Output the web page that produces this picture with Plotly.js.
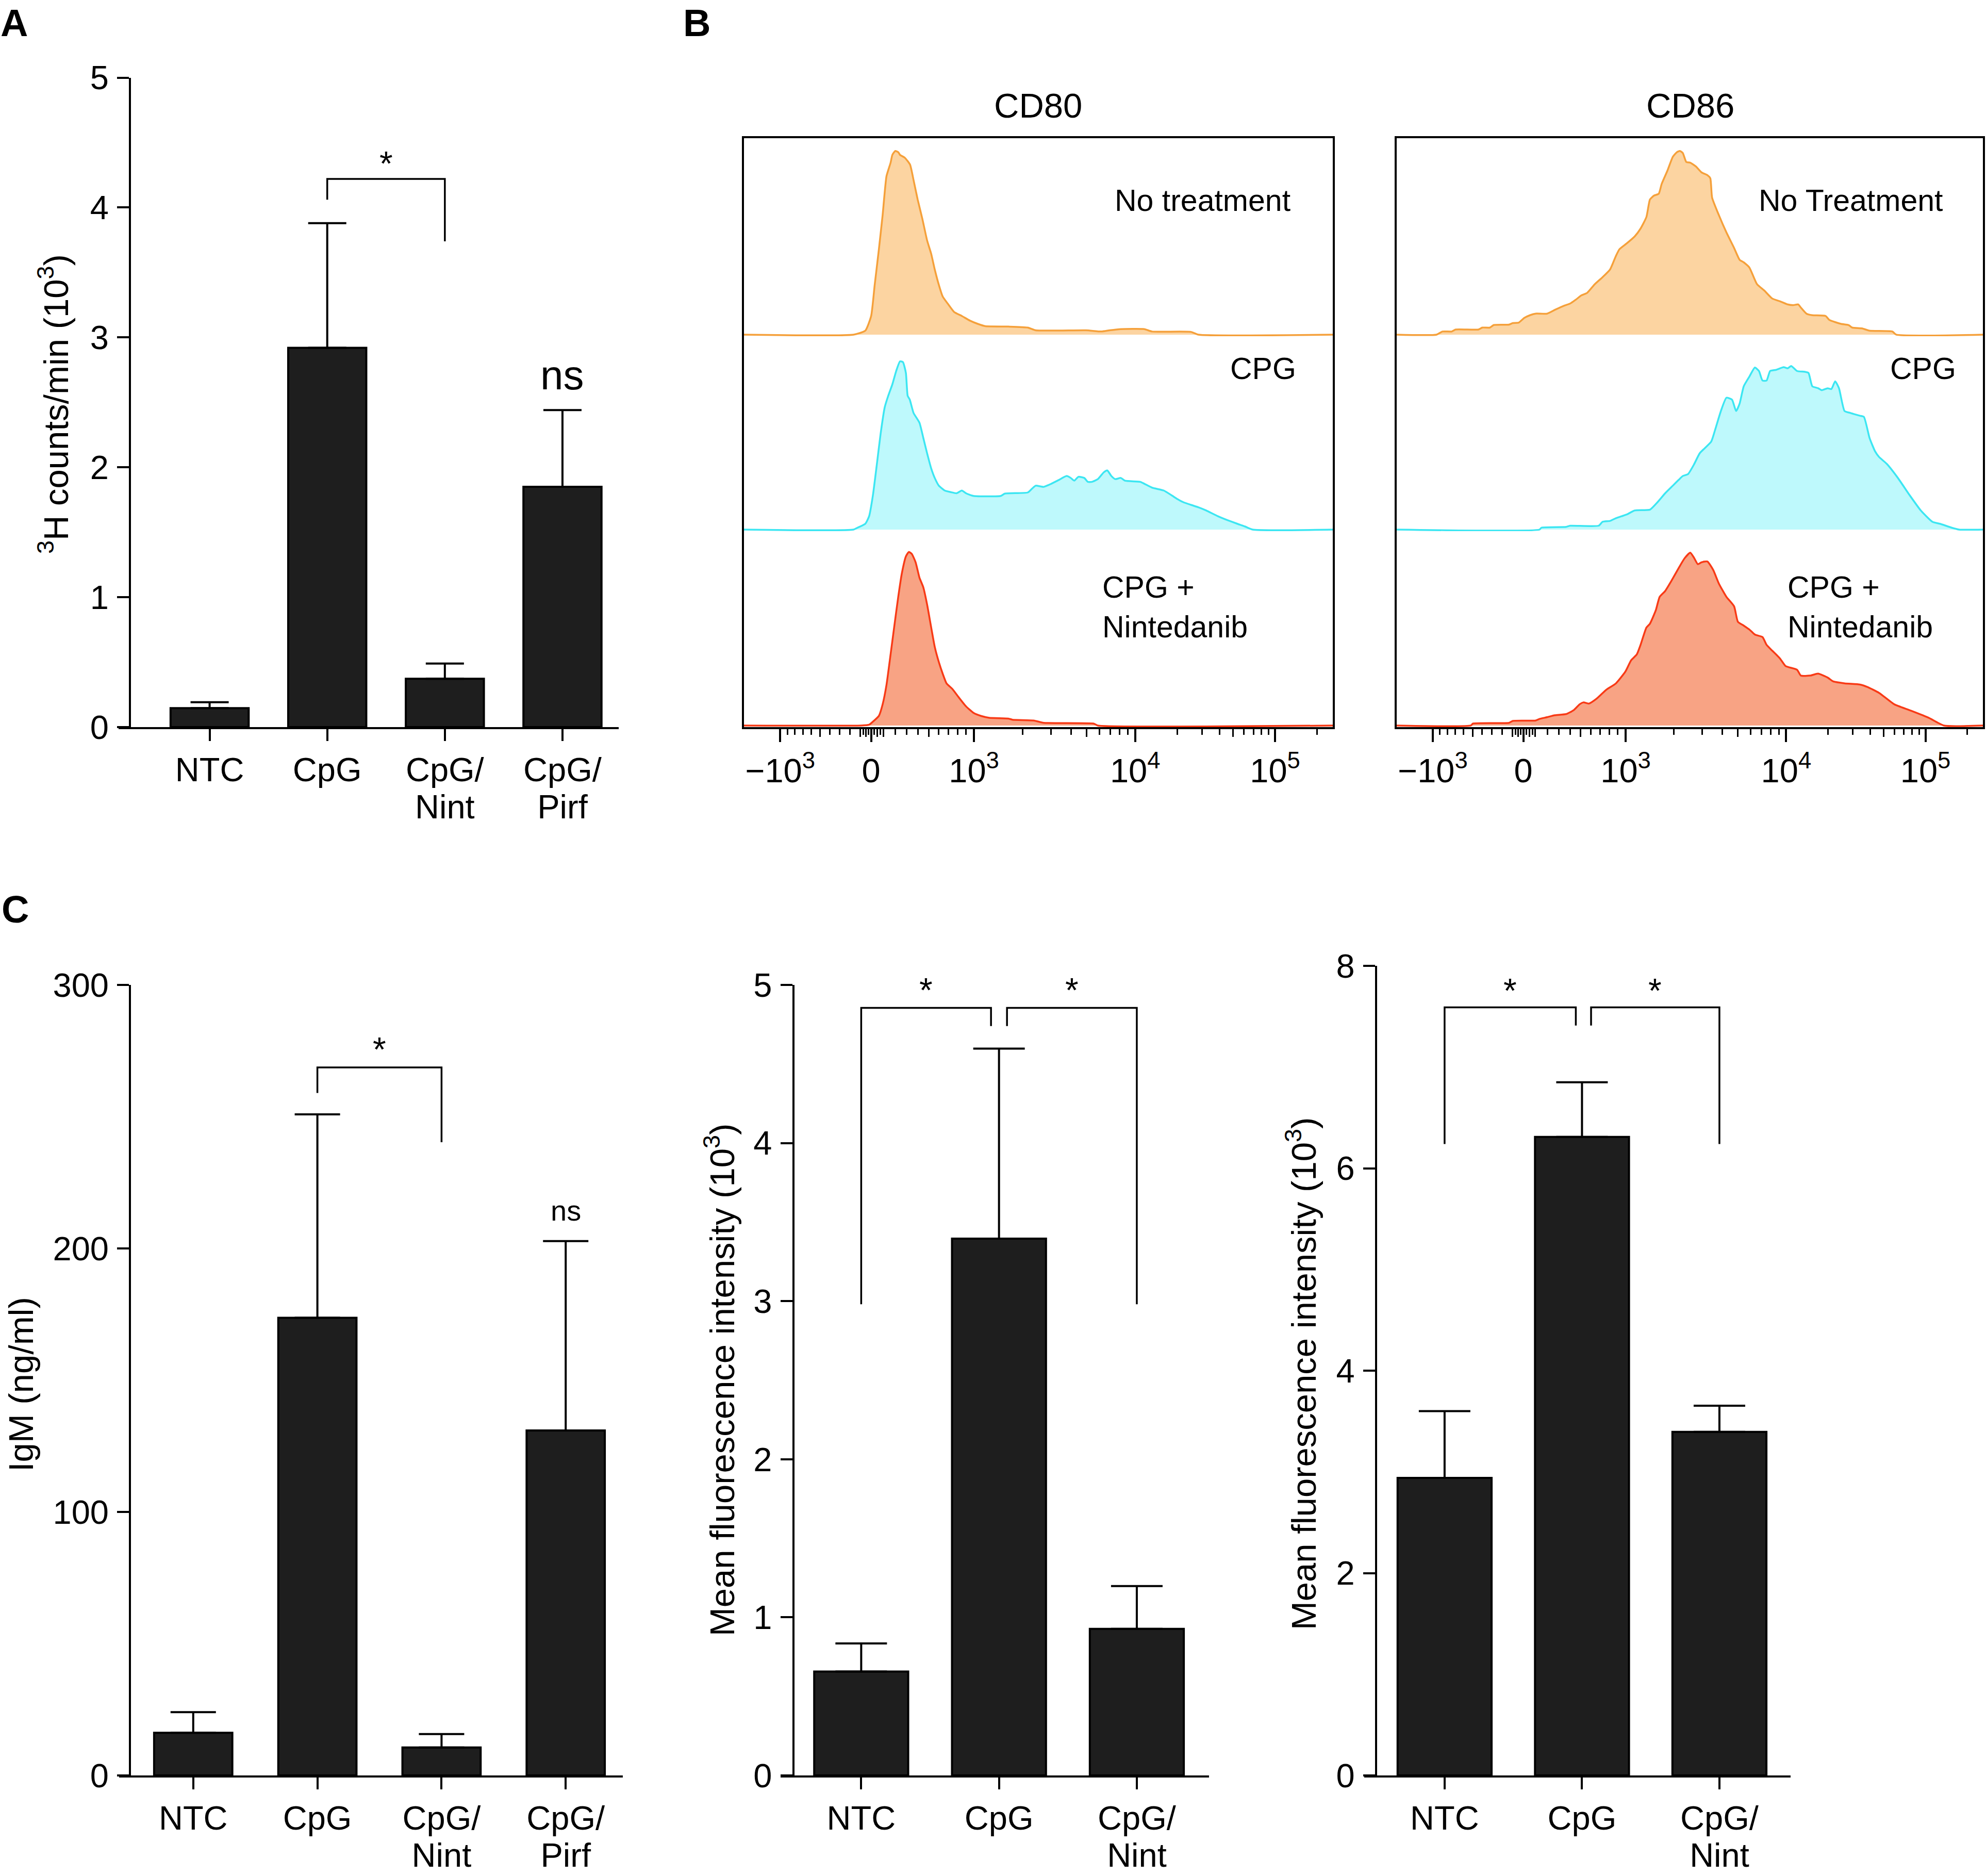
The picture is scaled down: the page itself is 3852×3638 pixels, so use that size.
<!DOCTYPE html>
<html><head><meta charset="utf-8">
<script src="https://cdn.plot.ly/plotly-3.0.1.min.js"></script>
<style>html,body{margin:0;padding:0;background:#fff}</style>
</head><body><div id="fig" style="width:3852px;height:3638px"></div>
<script>
// ===== Panel A: 3H-thymidine counts (x10^3 cpm) =====
const groupsA = ['NTC', 'CpG', 'CpG/<br>Nint', 'CpG/<br>Pirf'];
const meanA = [0.146, 2.92, 0.372, 1.85];
const semA  = [0.046, 0.96, 0.117, 0.59];

// ===== Panel C1: IgM (ng/ml) =====
const groupsC1 = ['NTC', 'CpG', 'CpG/<br>Nint', 'CpG/<br>Pirf'];
const meanC1 = [16.2, 173.7, 10.6, 130.9];
const semC1  = [7.8, 77.2, 5.1, 71.9];

// ===== Panel C2: CD80 MFI (x10^3) =====
const groupsC2 = ['NTC', 'CpG', 'CpG/<br>Nint'];
const meanC2 = [0.657, 3.395, 0.927];
const semC2  = [0.178, 1.202, 0.271];

// ===== Panel C3: CD86 MFI (x10^3) =====
const groupsC3 = ['NTC', 'CpG', 'CpG/<br>Nint'];
const meanC3 = [2.94, 6.31, 3.395];
const semC3  = [0.66, 0.54, 0.259];

// ===== Panel B: flow histograms (x = display channel 0-1000, y = normalized count) =====
const cd80_nt_x = [0,186,206,216,222,229,235.5,242,249,252,257,262,265,273,282,288,295,303,311,318,324,331,337.5,347,357,370,384,397,410,449,482,495.5,581,607,621,640,680,693,759,772,1000];
const cd80_nt_y = [0,0,0.020,0.095,0.253,0.431,0.609,0.806,0.875,0.915,0.935,0.929,0.915,0.901,0.866,0.787,0.688,0.589,0.480,0.411,0.332,0.253,0.194,0.154,0.115,0.095,0.071,0.055,0.043,0.041,0.036,0.022,0.022,0.016,0.022,0.028,0.028,0.016,0.014,0,0];

const cd80_cpg_x = [0,186,193,206,212.5,219,225.6,232,239,245,252,258.5,265,270,275,278,281.6,288,298,304.6,311,318,324,331,341,351,361,370,377,390,436,443,482,489,495.5,509,522,535,548,555,561,568,578,584,591,601,611,617,624,630.5,640,647,673,680,693,713,726,736,746,759,772,785,805,821,838,851,864,1000];
const cd80_cpg_y = [0,0,0.010,0.030,0.069,0.178,0.336,0.494,0.632,0.692,0.751,0.820,0.870,0.866,0.810,0.692,0.672,0.603,0.553,0.474,0.395,0.316,0.267,0.227,0.202,0.194,0.188,0.202,0.188,0.174,0.174,0.186,0.192,0.211,0.227,0.221,0.237,0.257,0.277,0.267,0.253,0.273,0.267,0.247,0.247,0.261,0.296,0.306,0.277,0.261,0.267,0.253,0.247,0.237,0.217,0.202,0.178,0.158,0.142,0.128,0.115,0.099,0.069,0.049,0.030,0.016,0,0];

const cd80_nin_x = [0,199,212.5,219,229,235.5,242,249,255,262,268,275,280,285,291.5,298,304.6,311,318,324,331,337.5,344,354,364,377,390,403,416.5,449,456,492,509,594,601,1000];
const cd80_nin_y = [0,0,0.004,0.020,0.049,0.109,0.208,0.366,0.504,0.662,0.781,0.870,0.893,0.883,0.840,0.761,0.711,0.623,0.504,0.405,0.326,0.267,0.217,0.188,0.148,0.099,0.065,0.049,0.040,0.036,0.030,0.026,0.014,0.010,0,0];

const cd86_nt_x = [0,68,78,94,100.5,139.5,146,159,165.5,191.6,198,208,217.6,227.4,237,256.6,269.7,286,295.7,305.5,315,325,338,351,364,374,380,393,406,416,426,432,439,447,452,462,471,478,483,488,494,501,510.5,520,530,535,538,549.5,562.5,575.6,585,592,601.6,614.6,627.6,640.6,653.6,666.7,676,685,689.4,699,709,731.7,738,757.8,770.8,777,793.6,806.6,845.6,852,1000];
const cd86_nt_y = [0,0,0.016,0.016,0.026,0.026,0.036,0.036,0.049,0.051,0.059,0.061,0.085,0.099,0.107,0.107,0.126,0.148,0.158,0.178,0.200,0.213,0.257,0.292,0.332,0.401,0.435,0.466,0.500,0.540,0.599,0.688,0.708,0.717,0.767,0.836,0.905,0.929,0.935,0.925,0.879,0.875,0.856,0.826,0.812,0.796,0.698,0.609,0.520,0.441,0.381,0.368,0.342,0.257,0.223,0.184,0.170,0.154,0.150,0.154,0.138,0.107,0.099,0.095,0.075,0.055,0.049,0.036,0.032,0.020,0.016,0,0];

const cd86_cpg_x = [0,243.6,247,289,295.7,344.5,351,364,374,383.6,393,406,432,445,458,471,481,488,497,507,517,536.5,543,553,562.5,572,579,585,592,601.6,611,618,624,631,637,647,660,667,673,683,696,702.5,709,719,725,735,741.5,748,754.5,764,774,780.5,790,797,806.6,816,823,836,855,875,894,914,927,946.5,959.5,1000];
const cd86_cpg_y = [0,0,0.010,0.014,0.020,0.020,0.040,0.045,0.059,0.069,0.079,0.099,0.103,0.142,0.188,0.227,0.257,0.277,0.287,0.336,0.395,0.455,0.514,0.613,0.682,0.672,0.613,0.652,0.741,0.791,0.838,0.820,0.771,0.771,0.820,0.826,0.840,0.834,0.846,0.820,0.816,0.810,0.741,0.731,0.721,0.731,0.727,0.767,0.731,0.613,0.603,0.597,0.589,0.583,0.474,0.405,0.375,0.340,0.267,0.178,0.099,0.040,0.030,0.010,0,0];

const cd86_nin_x = [0,126.5,130,191.6,198,237,243.6,256.6,269.7,289,302,312,318.5,328,341,357.5,374,390,400,409.6,416,426,432,442,448.6,458,468,481,491,500.7,507,513.7,520,530,540,549.5,562.5,575.6,582,592,601.6,611,624,631,640.6,653.6,663.4,683,689.4,705.7,718.7,735,744.8,764.3,790.3,803.3,822.9,848.9,874.9,907.4,933.5,1000];
const cd86_nin_y = [0,0,0.010,0.014,0.024,0.026,0.034,0.043,0.053,0.059,0.079,0.109,0.119,0.113,0.138,0.184,0.217,0.277,0.336,0.366,0.415,0.504,0.524,0.593,0.662,0.692,0.741,0.810,0.860,0.889,0.864,0.830,0.840,0.844,0.800,0.731,0.662,0.613,0.534,0.514,0.494,0.468,0.455,0.415,0.385,0.346,0.306,0.287,0.257,0.257,0.267,0.247,0.227,0.217,0.211,0.198,0.168,0.109,0.079,0.040,0,0];

// flow axis ticks (fluorescence intensity values)
const flowMajorVals = [-1000, 0, 1000, 10000, 100000];
const flowMajorText = ['\u221210<sup>3</sup>', '0', '10<sup>3</sup>', '10<sup>4</sup>', '10<sup>5</sup>'];

// significance brackets
const sigA  = [{x0:1, x1:2, top:4.22, y0:4.06, y1:3.74, label:'*', ly:4.34}];
const sigC1 = [{x0:1, x1:2, top:268.7, y0:259, y1:240.3, label:'*', ly:275.5}];
const sigC2 = [{x0:0, x1:0.942, top:4.855, y0:2.98, y1:4.74, label:'*', ly:4.968},
               {x0:1.058, x1:2, top:4.855, y0:4.74, y1:2.98, label:'*', ly:4.968}];
const sigC3 = [{x0:0, x1:0.955, top:7.59, y0:6.24, y1:7.41, label:'*', ly:7.756},
               {x0:1.066, x1:2, top:7.59, y0:7.41, y1:6.24, label:'*', ly:7.756}];

// ---------- helpers ----------
const W = 3852, H = 3638;
const FONT = '"Liberation Sans", Arial, Helvetica, sans-serif';
const NARROW = '"Liberation Sans Narrow", "Liberation Sans", Arial, sans-serif';
const px = v => v / W;
const py = v => 1 - v / H;

// biexponential-like display transform: intensity -> channel (0..1000)
const FLOW_ZERO = 216, K_POS = 171.8, K_NEG = 152, W_LIN = 833;
function toChannel(v) {
  if (Math.abs(v) <= 1000) return FLOW_ZERO + (v >= 0 ? K_POS : K_NEG) * Math.asinh(v / W_LIN);
  if (v > 0) {
    const lv = Math.log10(v);
    if (lv <= 4) return 390.6 + (lv - 3) * 273.8;
    return 664.4 + (lv - 4) * 237.6;
  }
  return 61.5 - (Math.log10(-v) - 3) * 273.8;
}
const minorVals = [-75, -25, 25, 75], mediumVals = [-100, -50, 50, 100];
for (let d = 2; d <= 9; d++) {
  const arr = d === 5 ? mediumVals : minorVals;
  arr.push(-d * 100, d * 100, d * 1000, d * 10000);
}
minorVals.push(200000);

const data = [];
const annotations = [];

function barPanel(xa, ya, means, sems, bw, capw, sig) {
  data.push({
    type: 'bar', x: means.map((_, i) => i), y: means, xaxis: xa, yaxis: ya, width: bw,
    marker: {color: '#1e1e1e', line: {color: '#000', width: 4}},
    error_y: {type: 'data', symmetric: false, array: sems, arrayminus: sems.map(() => 0),
              color: '#000', thickness: 4, width: capw},
    hoverinfo: 'skip'
  });
  sig.forEach(b => {
    data.push({type: 'scatter', mode: 'lines', x: [b.x0, b.x0, b.x1, b.x1], y: [b.y0, b.top, b.top, b.y1],
      xaxis: xa, yaxis: ya, line: {color: '#000', width: 3.5}, hoverinfo: 'skip', cliponaxis: false});
    annotations.push({xref: xa, yref: ya, x: (b.x0 + b.x1) / 2, y: b.ly, text: b.label, showarrow: false,
      font: {size: 66, family: FONT}, xanchor: 'center', yanchor: 'middle'});
  });
}

barPanel('x', 'y', meanA, semA, 0.664, 37, sigA);
barPanel('x6', 'y10', meanC1, semC1, 0.63, 44, sigC1);
barPanel('x7', 'y11', meanC2, semC2, 0.682, 50, sigC2);
barPanel('x8', 'y12', meanC3, semC3, 0.684, 50, sigC3);

// ns labels
annotations.push({xref: 'x', yref: 'y', x: 3, y: 2.71, text: 'ns', showarrow: false, font: {size: 80, family: FONT}});
annotations.push({xref: 'x6', yref: 'y10', x: 3, y: 214.3, text: 'ns', showarrow: false, font: {size: 56, family: FONT}});

// histograms
const ORANGE = {line: '#F5A03A', fill: '#FCD4A1'};
const CYAN = {line: '#3CE6F2', fill: '#BEF9FC'};
const RED = {line: '#F83A16', fill: '#F8A384'};
function hist(xs, ys, xa, ya, col) {
  data.push({type: 'scatter', mode: 'lines', x: xs, y: ys, xaxis: xa, yaxis: ya,
    line: {color: col.line, width: 3.5, shape: 'spline', smoothing: 0.5},
    fill: 'tozeroy', fillcolor: col.fill, hoverinfo: 'skip'});
}
hist(cd80_nt_x, cd80_nt_y, 'x2', 'y3', ORANGE);
hist(cd80_cpg_x, cd80_cpg_y, 'x2', 'y4', CYAN);
hist(cd80_nin_x, cd80_nin_y, 'x2', 'y5', RED);
hist(cd86_nt_x, cd86_nt_y, 'x4', 'y7', ORANGE);
hist(cd86_cpg_x, cd86_cpg_y, 'x4', 'y8', CYAN);
hist(cd86_nin_x, cd86_nin_y, 'x4', 'y9', RED);
// invisible points to register frame / overlay subplots
[['x2','y2'],['x3','y2'],['x4','y6'],['x5','y6'],['x9','y'],['x10','y10'],['x11','y11'],['x12','y12']]
  .forEach(([xa, ya]) => data.push({type: 'scatter', mode: 'markers', x: [0.5], y: [0.5], xaxis: xa, yaxis: ya,
    marker: {opacity: 0, size: 1}, hoverinfo: 'skip'}));

// panel B labels
const bLab = (xa, ya, x, y, text, xanchor) => annotations.push({xref: xa, yref: ya, x, y, text,
  showarrow: false, xanchor, yanchor: 'middle', align: 'left', font: {size: 59, family: NARROW}});
bLab('x2', 'y3', 930, 0.683, 'No treatment', 'right');
bLab('x2', 'y4', 940, 0.833, 'CPG', 'right');
bLab('x2', 'y5', 607, 0.608, 'CPG +<br>Nintedanib', 'left');
bLab('x4', 'y7', 933, 0.683, 'No Treatment', 'right');
bLab('x4', 'y8', 956, 0.833, 'CPG', 'right');
bLab('x4', 'y9', 665, 0.608, 'CPG +<br>Nintedanib', 'left');

// titles & axis titles
const pAnn = (x, y, text, size, extra) => annotations.push(Object.assign({xref: 'paper', yref: 'paper',
  x: px(x), y: py(y), text, showarrow: false, xanchor: 'center', yanchor: 'middle',
  font: {size, family: FONT}}, extra || {}));
pAnn(2014, 204, 'CD80', 67);
pAnn(3278, 204, 'CD86', 67);
pAnn(27, 44, '<b>A</b>', 74);
pAnn(1351, 44, '<b>B</b>', 74);
pAnn(29, 1764, '<b>C</b>', 74);
pAnn(104, 784, '<sup>3</sup>H counts/min (10<sup>3</sup>)', 67, {textangle: -90});
pAnn(40, 2685, 'IgM (ng/ml)', 67, {textangle: -90});
pAnn(1396, 2676, 'Mean fluorescence intensity (10<sup>3</sup>)', 67, {textangle: -90});
pAnn(2524, 2664, 'Mean fluorescence intensity (10<sup>3</sup>)', 67, {textangle: -90});

// ---------- axes ----------
const common = {showgrid: false, zeroline: false, fixedrange: true, color: '#000'};
const line1 = g => g.split('<br>')[0];
const line2 = g => g.split('<br>')[1] || '';
function barX(d0, d1, range, labels, anchor) {
  return Object.assign({}, common, {domain: [px(d0), px(d1)], range, anchor,
    tickmode: 'array', tickvals: labels.map((_, i) => i), ticktext: labels.map(line1),
    ticks: 'outside', ticklen: 23, tickwidth: 4, tickcolor: '#000',
    showline: true, linewidth: 4, linecolor: '#000',
    tickfont: {size: 65, family: FONT}, ticklabelstandoff: 0});
}
function barX2(over, range, labels, anchor) {
  const idx = labels.map((g, i) => i).filter(i => line2(labels[i]) !== '');
  return Object.assign({}, common, {overlaying: over, range, anchor,
    tickmode: 'array', tickvals: idx, ticktext: idx.map(i => line2(labels[i])),
    ticks: 'outside', ticklen: 23, tickwidth: 1, tickcolor: 'rgba(0,0,0,0)', showline: false,
    tickfont: {size: 65, family: FONT}, ticklabelstandoff: 75});
}
function barY(top, bottom, range, dtick, pos) {
  return Object.assign({}, common, {domain: [py(bottom), py(top)], range, anchor: 'free', position: px(pos),
    tickmode: 'linear', tick0: 0, dtick, ticks: 'outside', ticklen: 23, tickwidth: 4, tickcolor: '#000',
    showline: true, linewidth: 4, linecolor: '#000',
    tickfont: {size: 65, family: FONT}, ticklabelstandoff: 3});
}
function flowX(d0, d1, anchor) {
  return Object.assign({}, common, {domain: [px(d0), px(d1)], range: [0, 1000], anchor,
    tickmode: 'array', tickvals: flowMajorVals.map(toChannel), ticktext: flowMajorText,
    ticks: 'outside', ticklen: 25, tickwidth: 4, tickcolor: '#000',
    showline: true, mirror: true, linewidth: 4, linecolor: '#000',
    minor: {tickmode: 'array', tickvals: minorVals.map(toChannel), ticks: 'outside', ticklen: 11,
            tickwidth: 3, tickcolor: '#000', showgrid: false},
    tickfont: {size: 65, family: NARROW}, ticklabelstandoff: 0});
}
function flowMid(over, anchor) {
  return Object.assign({}, common, {overlaying: over, anchor, range: [0, 1000],
    tickmode: 'array', tickvals: mediumVals.map(toChannel), ticks: 'outside', ticklen: 18,
    tickwidth: 3, tickcolor: '#000', showticklabels: false, showline: false});
}
function frameY(anchor) {
  return Object.assign({}, common, {domain: [py(1410), py(268)], range: [0, 1], anchor,
    showline: true, mirror: true, linewidth: 4, linecolor: '#000', ticks: '', showticklabels: false});
}
function histY(top, bottom, anchor) {
  return Object.assign({}, common, {domain: [py(bottom), py(top)], range: [-0.008, 1], anchor, visible: false});
}

const rA = [-0.774, 3.478], rC1 = [-0.597, 3.46], rC2 = [-0.585, 2.524], rC3 = [-0.586, 2.518];
const layout = {
  width: W, height: H, margin: {l: 0, r: 0, t: 0, b: 0, pad: 0},
  paper_bgcolor: '#fff', plot_bgcolor: 'rgba(0,0,0,0)', showlegend: false,
  font: {family: FONT, size: 62, color: '#000'},
  xaxis: barX(230, 1200, rA, groupsA, 'y'),
  xaxis9: barX2('x', rA, groupsA, 'y'),
  yaxis: barY(150.5, 1410, [0, 5], 1, 252),
  xaxis2: flowX(1443, 2585, 'y2'),
  xaxis3: flowMid('x2', 'y2'),
  yaxis2: frameY('x2'),
  yaxis3: histY(268, 652, 'x2'),
  yaxis4: histY(652, 1030, 'x2'),
  yaxis5: histY(1030, 1410, 'x2'),
  xaxis4: flowX(2709, 3846, 'y6'),
  xaxis5: flowMid('x4', 'y6'),
  yaxis6: frameY('x4'),
  yaxis7: histY(268, 652, 'x4'),
  yaxis8: histY(652, 1030, 'x4'),
  yaxis9: histY(1030, 1410, 'x4'),
  xaxis6: barX(231, 1208, rC1, groupsC1, 'y10'),
  xaxis10: barX2('x6', rC1, groupsC1, 'y10'),
  yaxis10: barY(1910, 3443, [0, 300], 100, 252),
  xaxis7: barX(1514, 2345, rC2, groupsC2, 'y11'),
  xaxis11: barX2('x7', rC2, groupsC2, 'y11'),
  yaxis11: barY(1910, 3443, [0, 5], 1, 1538.5),
  xaxis8: barX(2645.7, 3473, rC3, groupsC3, 'y12'),
  xaxis12: barX2('x8', rC3, groupsC3, 'y12'),
  yaxis12: barY(1873, 3443, [0, 8], 2, 2668.7),
  annotations
};

Plotly.newPlot('fig', data, layout, {staticPlot: true, displayModeBar: false});
</script>
</body></html>
